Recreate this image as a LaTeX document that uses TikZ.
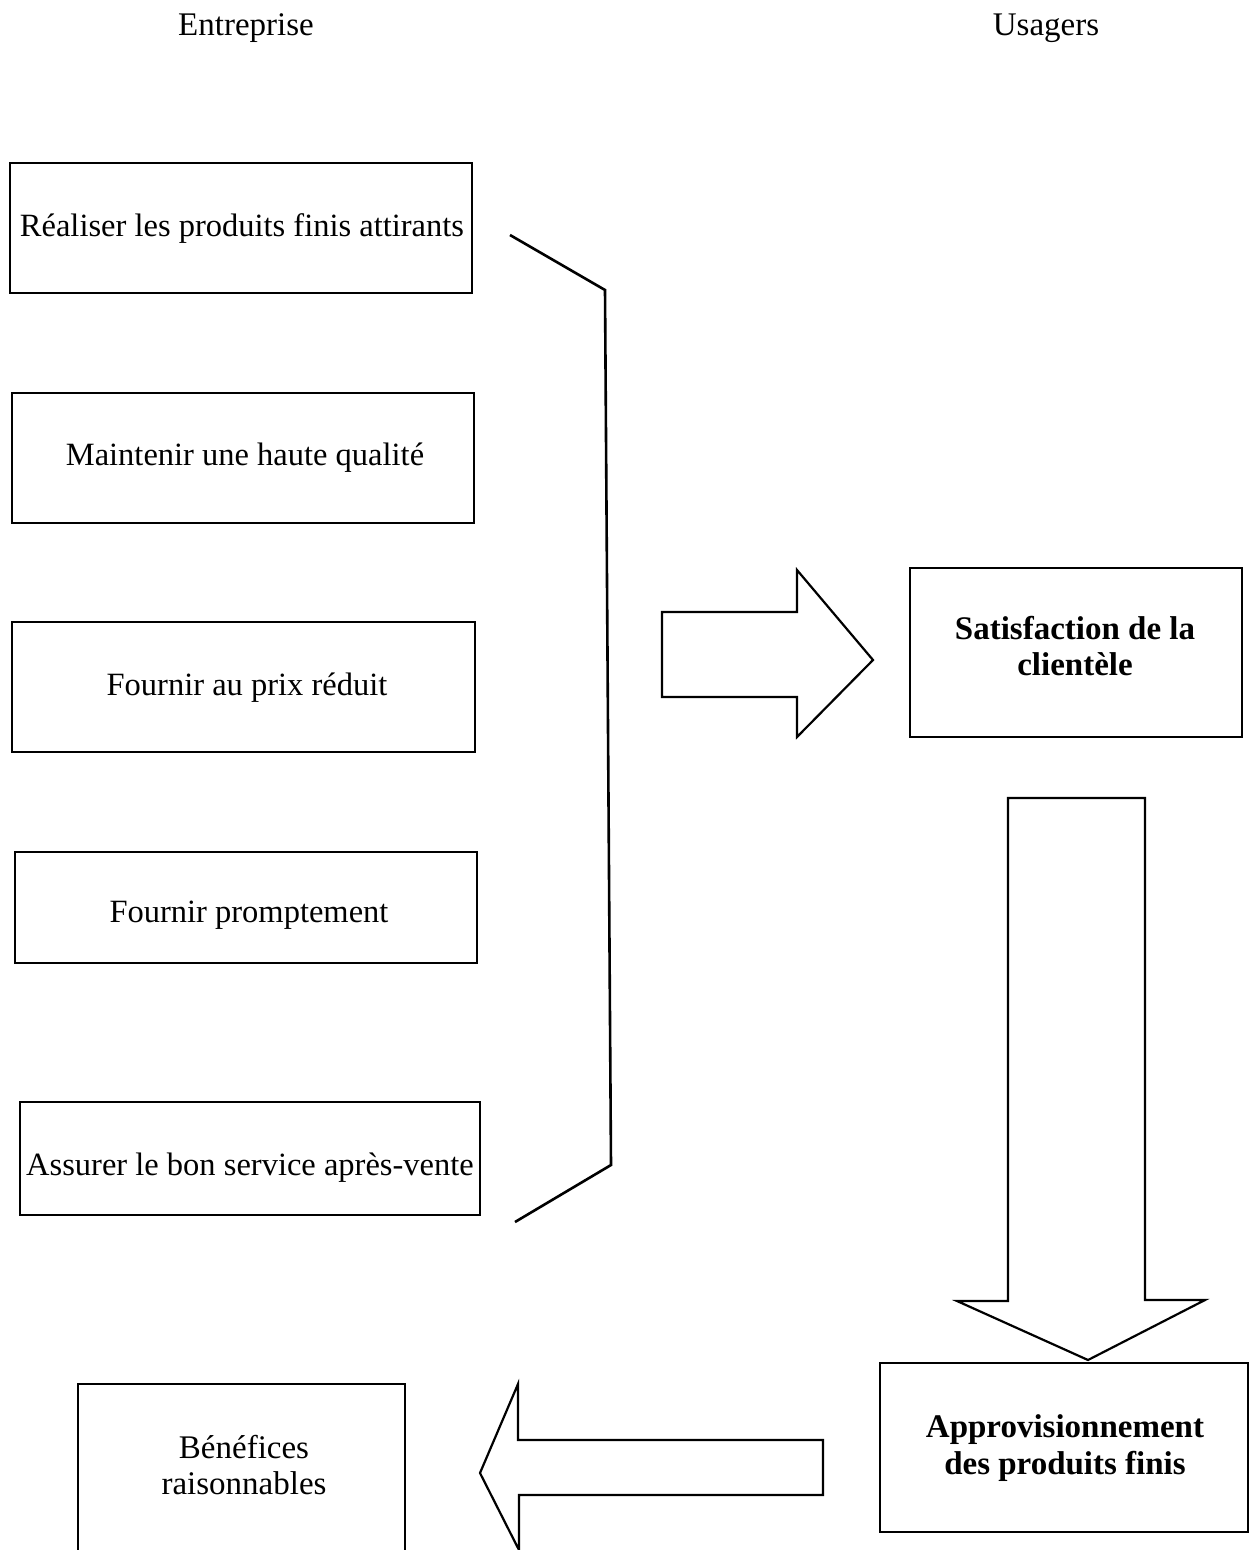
\documentclass[tikz,border=0pt]{standalone}
\usepackage{fontspec}
\setmainfont{Liberation Serif}
\begin{document}
\begin{tikzpicture}[x=1pt,y=-1pt,
  txt/.style={font=\fontsize{32.5}{36}\selectfont, inner sep=0pt, align=center},
  btxt/.style={txt, font=\fontsize{33}{36.5}\selectfont\bfseries},
  box/.style={draw, line width=2.2pt, inner sep=0pt},
  shapeline/.style={line width=2.2pt, line join=miter},
  brace/.style={line width=2.6pt, line join=miter}]
\useasboundingbox (0,0) rectangle (1253,1550);
\clip (0,0) rectangle (1253,1550);
\fill[white] (0,0) rectangle (1253,1550);

% titles
\node[txt, font=\fontsize{33}{36}\selectfont] (tEnt) at (246,28) {Entreprise};
\node[txt, font=\fontsize{33}{36}\selectfont] (tUsa) at (1046,28) {Usagers};

% left column boxes
\node[box, minimum width=462pt, minimum height=130pt] (b1) at (241,228) {};
\node[txt] (b1t) at (242,229) {Réaliser les produits finis attirants};
\node[box, minimum width=462pt, minimum height=130pt] (b2) at (243,458) {};
\node[txt] (b2t) at (245,458) {Maintenir une haute qualité};
\node[box, minimum width=463pt, minimum height=130pt] (b3) at (243.5,687) {};
\node[txt] (b3t) at (247,688) {Fournir au prix réduit};
\node[box, minimum width=462pt, minimum height=111pt] (b4) at (246,907.5) {};
\node[txt] (b4t) at (249,915) {Fournir promptement};
\node[box, minimum width=460pt, minimum height=113pt] (b5) at (250,1158.5) {};
\node[txt] (b5t) at (250,1168) {Assurer le bon service après-vente};

% bracket
\coordinate (k1) at (510,235);
\coordinate (k2) at (605,290);
\coordinate (k3) at (611,1165);
\coordinate (k4) at (515,1222);
\draw[brace] (k1) -- (k2) -- (k3) -- (k4);

% right block arrow
\draw[shapeline] (662,612) -- (797,612) -- (797,570) -- (873,660) -- (797,737) -- (797,697) -- (662,697) -- cycle;

% satisfaction
\node[box, minimum width=332pt, minimum height=169pt] (sat) at (1076,652.5) {};
\node[btxt] (satt) at (1075,646) {Satisfaction de la\\clientèle};

% down block arrow
\draw[shapeline] (1008,798) -- (1145,798) -- (1145,1300) -- (1205,1300) -- (1088,1360) -- (957,1301) -- (1008,1301) -- cycle;

% approvisionnement
\node[box, minimum width=368pt, minimum height=169pt] (app) at (1064,1447.5) {};
\node[btxt] (appt) at (1065,1448) {Approvisionnement\\des produits finis};

% left block arrow
\draw[shapeline] (823,1440) -- (823,1495) -- (519,1495) -- (519,1550) -- (480,1473) -- (518,1384) -- (518,1440) -- cycle;

% benefices (bottom edge below the page)
\node[box, minimum width=327pt, minimum height=180pt, anchor=north] (ben) at (241.5,1383) {};
\node[txt, font=\fontsize{33}{36.5}\selectfont] (bent) at (244,1465) {Bénéfices\\raisonnables};
\end{tikzpicture}
\end{document}
